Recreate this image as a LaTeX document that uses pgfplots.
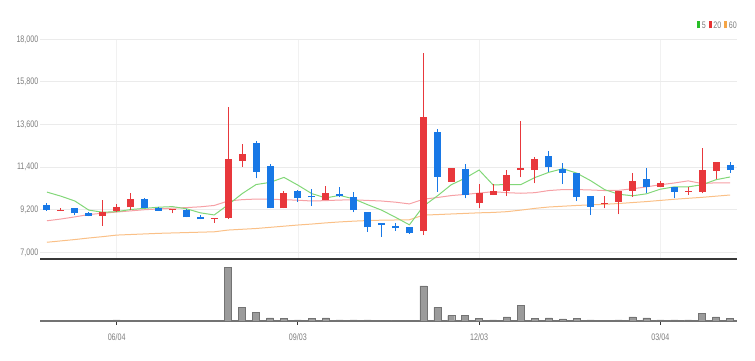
\documentclass[border=0pt]{standalone}
\usepackage{pgfplots}
\pgfplotsset{compat=1.18}
\usepackage{pgfplotstable}
\usepackage{fontspec}
\setmainfont{Liberation Sans}
\newfontfamily\lbl{Liberation Sans}[FakeStretch=0.75]

\definecolor{upred}{RGB}{232,56,60}
\definecolor{dnblue}{RGB}{24,120,230}
\definecolor{mafive}{RGB}{130,215,120}
\definecolor{matwenty}{RGB}{246,160,165}
\definecolor{masixty}{RGB}{250,192,135}
\definecolor{lblgray}{RGB}{125,125,125}
\definecolor{gridgray}{RGB}{235,235,235}
\definecolor{axisdark}{RGB}{55,55,55}
\definecolor{volfill}{RGB}{155,155,155}
\definecolor{voldark}{RGB}{115,115,115}
\definecolor{leggreen}{RGB}{40,190,40}
\definecolor{legred}{RGB}{230,50,50}
\definecolor{legorange}{RGB}{245,165,70}

% up (red) candles: index open high low close
\pgfplotstableread{
i o h l c
2 9150 9270 9150 9210
5 8870 9700 8360 9080
6 9120 9490 9100 9350
7 9320 10080 9180 9750
10 9170 9230 9010 9230
13 8730 8790 8530 8790
14 8750 14510 8740 11800
15 11730 12570 11420 12060
18 9270 10180 9270 10080
21 9700 10420 9700 10080
28 8100 17300 7890 14000
30 10640 11350 10640 11330
32 9530 10520 9270 10040
33 9960 10520 9960 10160
34 10180 11250 9900 10990
35 11250 13780 10870 11330
36 11250 11900 10560 11800
41 9480 9920 9270 9540
42 9610 10180 8960 10180
43 10180 11110 9870 10690
45 10390 10690 10350 10560
47 10130 10350 9960 10190
48 10130 12370 10040 11250
49 11210 11640 10780 11640
}\upcandles

% down (blue) candles: index open high low close
\pgfplotstableread{
i o h l c
1 9440 9560 9150 9180
3 9270 9300 8920 9010
4 9010 9100 8850 8870
8 9730 9800 9300 9300
9 9300 9330 9150 9150
11 9180 9230 8800 8810
12 8840 8950 8700 8700
16 12660 12740 10820 11160
17 11470 11540 9270 9270
19 10180 10200 9610 9790
20 9920 10250 9390 9840
22 10010 10380 9840 9920
23 9840 10100 9060 9180
24 9090 9090 8060 8290
25 8500 8520 7800 8410
26 8360 8530 8110 8240
27 8320 8330 7960 7980
29 13190 13350 10130 10900
31 11280 11560 9790 9960
37 11970 12230 11160 11390
38 11280 11620 10520 11110
39 11110 11110 9650 9840
40 9920 9920 8920 9350
44 10780 11330 10040 10350
46 10350 10350 9790 10130
50 11500 11680 11110 11250
}\dncandles

% moving averages and volume
\pgfplotstableread{
i ma5 ma20 ma60 v
1 10110 8630 7520 0.8
2 9900 8720 7590 0.3
3 9650 8830 7660 0.8
4 9180 8950 7740 0.3
5 9070 9020 7810 0.8
6 9100 9080 7890 1.0
7 9210 9140 7920 0.8
8 9270 9200 7950 0.3
9 9330 9240 7980 0.3
10 9360 9280 8000 0.3
11 9250 9310 8020 0.3
12 9040 9350 8040 0.3
13 8930 9420 8060 0.3
14 9460 9650 8150 53.7
15 10030 9720 8190 13.7
16 10500 9750 8230 8.7
17 10610 9740 8290 3.0
18 10870 9720 8350 2.3
19 10470 9690 8410 1.0
20 10030 9650 8460 2.7
21 9810 9670 8520 3.0
22 9940 9700 8570 1.0
23 9760 9710 8610 1.0
24 9460 9680 8640 1.0
25 9180 9650 8660 0.5
26 8810 9590 8670 0.8
27 8420 9500 8680 0.3
28 9380 9740 8920 35.0
29 9910 9830 8950 13.7
30 10490 9930 8980 5.3
31 10830 9990 9010 5.7
32 11250 10060 9040 2.7
33 10480 10130 9060 1.0
34 10500 10080 9100 4.0
35 10500 10050 9180 15.7
36 10860 10080 9270 2.7
37 11130 10190 9340 3.0
38 11320 10240 9380 2.0
39 11090 10240 9420 2.7
40 10700 10220 9450 1.0
41 10240 10190 9480 0.3
42 10000 10200 9520 1.0
43 9920 10280 9570 4.0
44 10020 10380 9620 3.0
45 10260 10490 9680 1.0
46 10380 10580 9740 1.0
47 10380 10690 9790 1.0
48 10490 10550 9840 7.3
49 10750 10590 9900 4.0
50 10890 10590 9960 2.7
}\madata

\pgfplotsset{
  lblfont/.style={font=\lbl\fontsize{9.5}{10}\selectfont, text=lblgray},
}

\begin{document}
\begin{tikzpicture}
\useasboundingbox (0,0) rectangle (755pt,361pt);

% ---------------- price panel ----------------
\begin{axis}[
  at={(40pt,101.7pt)}, anchor=south west,
  width=697pt, height=220pt, scale only axis,
  xmin=0.5, xmax=50.5, ymin=6640, ymax=18000,
  scaled y ticks=false, scaled x ticks=false,
  axis x line*=bottom, axis y line*=left,
  x axis line style={draw=axisdark, line width=1.6pt},
  y axis line style={draw=none},
  xtick={6,19,32,45}, xticklabels={},
  ytick={7000,9200,11400,13600,15800,18000},
  yticklabels={{7,000},{9,200},{11,400},{13,600},{15,800},{18,000}},
  yticklabel style={lblfont, inner sep=1.5pt},
  major tick length=0pt,
  xmajorgrids, ymajorgrids,
  y grid style={gridgray, line width=0.9pt},
  x grid style={gridgray!70, line width=0.7pt},
  clip=true,
]
% moving averages
\addplot[masixty, line width=1pt, mark=none] table[x=i, y=ma60] {\madata};
\addplot[matwenty, line width=1pt, mark=none] table[x=i, y=ma20] {\madata};
\addplot[mafive, line width=1pt, mark=none] table[x=i, y=ma5] {\madata};
% wicks
\addplot[draw=none, mark=none, forget plot,
  error bars/.cd, y dir=plus, y explicit, error mark=none,
  error bar style={draw=upred, line width=1pt}]
  table[x=i, y=l, y error plus expr=\thisrow{h}-\thisrow{l}] {\upcandles};
\addplot[draw=none, mark=none, forget plot,
  error bars/.cd, y dir=plus, y explicit, error mark=none,
  error bar style={draw=dnblue, line width=1pt}]
  table[x=i, y=l, y error plus expr=\thisrow{h}-\thisrow{l}] {\dncandles};
% bodies
\addplot[draw=none, mark=none, forget plot,
  error bars/.cd, y dir=plus, y explicit, error mark=none,
  error bar style={draw=upred, line width=7pt}]
  table[x=i, y=o, y error plus expr=\thisrow{c}-\thisrow{o}] {\upcandles};
\addplot[draw=none, mark=none, forget plot,
  error bars/.cd, y dir=plus, y explicit, error mark=none,
  error bar style={draw=dnblue, line width=7pt}]
  table[x=i, y=c, y error plus expr=\thisrow{o}-\thisrow{c}] {\dncandles};
\end{axis}

% ---------------- volume panel ----------------
\begin{axis}[
  at={(40pt,40pt)}, anchor=south west,
  width=697pt, height=59pt, scale only axis,
  xmin=0.5, xmax=50.5, ymin=0, ymax=59,
  scaled y ticks=false,
  axis x line*=bottom, axis y line*=left,
  x axis line style={draw=voldark, line width=1.5pt},
  y axis line style={draw=none},
  ytick=\empty,
  xtick={6,19,32,45}, xticklabels={06/04,09/03,12/03,03/04},
  xticklabel style={lblfont, yshift=-5pt},
  xtick align=outside, major tick length=4pt,
  xtick style={draw=axisdark, line width=0.8pt},
  clip=false,
]
\addplot[ybar, bar width=7pt, fill=volfill, draw=voldark, line width=0.4pt]
  table[x=i, y=v] {\madata};
\end{axis}

% legend
\node[anchor=east, inner sep=0pt, font=\lbl\fontsize{9.5}{10}\selectfont, text=lblgray]
  at (737pt,336pt)
  {\textcolor{leggreen}{\rule{3pt}{7pt}}\,5\hspace{3pt}\textcolor{legred}{\rule{3pt}{7pt}}\,20\hspace{3pt}\textcolor{legorange}{\rule{3pt}{7pt}}\,60};
\end{tikzpicture}
\end{document}
